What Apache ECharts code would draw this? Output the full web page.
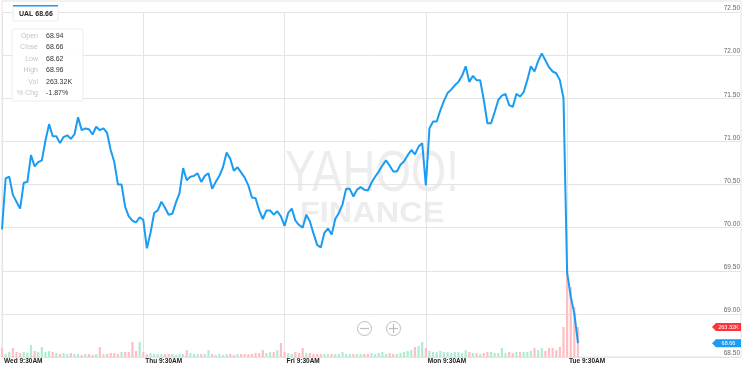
<!DOCTYPE html>
<html><head><meta charset="utf-8">
<script src="https://cdn.jsdelivr.net/npm/echarts@6/dist/echarts.min.js"></script>
<style>html,body{margin:0;padding:0;background:#fff}#c{width:744px;height:369px}</style>
</head><body><div id="c"></div><script>
// ---------- data (10-minute samples) ----------
const dayNames = ['Wed', 'Thu', 'Fri', 'Mon', 'Tue'];
const tickLabels = ['Wed 9:30AM', 'Thu 9:30AM', 'Fri 9:30AM', 'Mon 9:30AM', 'Tue 9:30AM'];
const yTickMin = 68.5, yTickMax = 72.5, yTickStep = 0.5;

const priceWed = [69.98,70.57,70.59,70.38,70.30,70.22,70.52,70.53,70.84,70.71,70.76,70.78,71.01,71.20,71.06,71.06,70.98,71.05,71.07,71.03,71.08,71.28,71.13,71.15,71.14,71.08,71.17,71.13,71.15,71.10,70.90,70.76,70.50,70.50,70.24,70.13,70.08,70.06,70.12];
const priceThu = [70.09,69.76,69.94,70.17,70.20,70.30,70.23,70.15,70.16,70.29,70.40,70.69,70.55,70.59,70.60,70.63,70.53,70.60,70.63,70.45,70.53,70.60,70.70,70.87,70.80,70.66,70.70,70.64,70.58,70.49,70.35,70.34,70.20,70.10,70.20,70.20,70.15,70.19,70.13];
const priceFri = [70.02,70.17,70.22,70.08,70.03,70.00,70.15,70.07,69.93,69.80,69.77,69.94,69.99,69.92,70.10,70.17,70.27,70.45,70.45,70.36,70.44,70.47,70.44,70.43,70.52,70.59,70.65,70.72,70.78,70.72,70.65,70.65,70.73,70.77,70.84,70.90,70.85,70.94,70.98];
const priceMon = [70.49,71.15,71.23,71.23,71.36,71.47,71.56,71.60,71.65,71.69,71.76,71.87,71.69,71.76,71.71,71.71,71.48,71.21,71.21,71.34,71.48,71.53,71.55,71.42,71.40,71.55,71.52,71.57,71.71,71.87,71.81,71.93,72.02,71.94,71.86,71.81,71.79,71.71,71.50];
const priceTue = [69.48,69.20,69.00,68.66];

// volume in thousands of shares
const volWed = [76,26,44,79,44,35,44,35,105,53,44,88,44,53,44,35,26,35,26,35,26,26,18,26,26,18,26,88,26,26,35,35,26,44,44,44,132,53,132];
const volThu = [44,26,35,26,26,26,26,26,26,18,26,26,61,35,26,26,26,26,61,26,18,26,18,26,26,18,26,26,26,26,26,35,35,61,35,44,44,61,123];
const volFri = [44,35,26,44,35,79,35,35,26,26,26,26,26,26,26,26,44,26,26,26,26,26,26,26,35,26,35,44,26,35,26,26,35,44,53,61,88,97,132];
const volMon = [79,53,44,44,53,44,44,35,44,44,35,61,44,35,35,26,35,44,44,35,35,79,35,44,35,44,44,44,44,53,79,61,79,53,79,79,61,88,263];
const volTue = [781,615,439,263.32];

const statLabels = ['Open', 'Close', 'Low', 'High', 'Vol', '% Chg'];
const statValues = ['68.94', '68.66', '68.62', '68.96', '263.32K', '-1.87%'];
const ticker = 'UAL';

// ---------- build ----------
const price = [].concat(priceWed, priceThu, priceFri, priceMon, priceTue);
const volume = [].concat(volWed, volThu, volFri, volMon, volTue);
const perDay = 39, stepMin = 10, totalSlots = 205;
const categories = [];
for (let i = 0; i < totalSlots; i++) {
  const d = Math.min(Math.floor(i / perDay), 4);
  const m = 570 + (i - d * perDay) * stepMin;
  let h = Math.floor(m / 60), mm = m % 60;
  const ap = h >= 12 ? 'PM' : 'AM';
  if (h > 12) h -= 12;
  categories.push(dayNames[d] + ' ' + h + ':' + String(mm).padStart(2, '0') + ap + (i >= perDay * 5 ? '+' + i : ''));
}
const lastPrice = price[price.length - 1];
const lastVol = volume[volume.length - 1];
const lastIdx = totalSlots - 1;

const FONT = '"Liberation Sans", Arial, sans-serif';
const BLUE = '#1a9cf3';
const GREEN = '#b2ead4';
const PINK = '#ffbfc2';
const GRID = '#e4e4e4';
const isDayStart = (i) => i % perDay === 0 && i < perDay * 5;

const chart = echarts.init(document.getElementById('c'), null, { renderer: 'canvas' });
const tagPath = 'path://M0,4 L4,0 L29,0 L29,8 L4,8 Z';

chart.setOption({
  animation: false,
  backgroundColor: '#fff',
  grid: [
    { left: 2, right: 3, top: 12, bottom: 12 },
    { left: 2, right: 3, top: 1, bottom: 12, show: true, borderColor: GRID, borderWidth: 1, backgroundColor: 'transparent', z: 0 }
  ],
  xAxis: [
    {
      type: 'category', gridIndex: 0, data: categories, boundaryGap: false,
      axisLine: { show: false }, axisTick: { show: false },
      axisLabel: {
        interval: (i) => isDayStart(i),
        formatter: (v, i) => tickLabels[Math.floor(i / perDay)],
        align: 'left', margin: 1, padding: [0, 0, 0, 2],
        fontSize: 6.5, fontWeight: 'bold', color: '#222', fontFamily: FONT
      },
      splitLine: { show: true, interval: (i) => isDayStart(i), lineStyle: { color: GRID, width: 1 } }
    },
    {
      type: 'category', gridIndex: 1, data: categories, boundaryGap: false, show: false
    }
  ],
  yAxis: [
    {
      type: 'value', gridIndex: 0, position: 'right',
      min: yTickMin, max: yTickMax, interval: yTickStep,
      axisLine: { show: false }, axisTick: { show: false },
      axisLabel: {
        inside: true, margin: 1, fontSize: 6.5, color: '#666', fontFamily: FONT,
        verticalAlign: 'bottom', formatter: (v) => v.toFixed(2)
      },
      splitLine: { lineStyle: { color: GRID, width: 1 } }
    },
    { type: 'value', gridIndex: 1, min: 0, max: 3125, show: false, splitLine: { show: false } }
  ],
  series: [
    {
      type: 'bar', xAxisIndex: 1, yAxisIndex: 1, z: 1, barWidth: 2.2,
      data: volume.map((v, i) => ({
        value: v,
        itemStyle: { color: (i > 0 && price[i] >= price[i - 1]) ? GREEN : PINK }
      })),
      markPoint: {
        silent: true, animation: false,
        symbol: tagPath, symbolSize: [29, 8], symbolOffset: [-14.5, 0], symbolKeepAspect: false,
        itemStyle: { color: '#ff333a' },
        label: { show: true, position: 'inside', offset: [2, 0], color: '#fff', fontSize: 5.5, fontFamily: FONT,
          formatter: () => lastVol.toFixed(2) + 'K' },
        data: [{ coord: [lastIdx, lastVol] }]
      }
    },
    {
      type: 'line', xAxisIndex: 0, yAxisIndex: 0, z: 3, data: price,
      showSymbol: false, symbol: 'none', smooth: false,
      lineStyle: { color: BLUE, width: 2 },
      markPoint: {
        silent: true, animation: false,
        symbol: tagPath, symbolSize: [29, 8], symbolOffset: [-14.5, 0], symbolKeepAspect: false,
        itemStyle: { color: BLUE },
        label: { show: true, position: 'inside', offset: [2, 0], color: '#fff', fontSize: 5.5, fontFamily: FONT,
          formatter: () => lastPrice.toFixed(2) },
        data: [{ coord: [lastIdx, lastPrice] }]
      }
    }
  ],
  graphic: [
    // watermark
    { type: 'text', x: 285, y: 175, scaleX: 0.8, z: 0, silent: true,
      style: { text: 'YAHOO!', font: 'normal 57px ' + FONT, fill: '#ededed', verticalAlign: 'middle', align: 'left' } },
    { type: 'text', x: 300, y: 214, scaleX: 1.12, z: 0, silent: true,
      style: { text: 'FINANCE', font: 'bold 29px ' + FONT, fill: '#ededed', verticalAlign: 'middle', align: 'left' } },
    // legend chip
    { type: 'rect', shape: { x: 13, y: 6, width: 45, height: 15, r: 1 }, z: 10,
      style: { fill: '#fff', stroke: '#ececec', lineWidth: 1 } },
    { type: 'rect', shape: { x: 13, y: 5, width: 45, height: 1.5 }, z: 11, style: { fill: BLUE } },
    { type: 'text', x: 19, y: 14, z: 11,
      style: { text: ticker + ' ' + lastPrice.toFixed(2), font: 'bold 7px ' + FONT, fill: '#222', verticalAlign: 'middle' } },
    // stats box
    { type: 'rect', shape: { x: 12, y: 29, width: 71, height: 72, r: 2 }, z: 10,
      style: { fill: 'rgba(255,255,255,0.92)', stroke: '#ececec', lineWidth: 1 } },
    ...statLabels.map((t, k) => ({ type: 'text', x: 38, y: 36 + k * 11.4, z: 11,
      style: { text: t, font: '7px ' + FONT, fill: '#c4c4c4', align: 'right', verticalAlign: 'middle' } })),
    ...statValues.map((t, k) => ({ type: 'text', x: 46, y: 36 + k * 11.4, z: 11,
      style: { text: t, font: '7px ' + FONT, fill: '#333', align: 'left', verticalAlign: 'middle' } })),
    // zoom buttons
    { type: 'circle', shape: { cx: 364.5, cy: 328.5, r: 7 }, z: 10, style: { fill: '#fff', stroke: '#bdbdbd', lineWidth: 1 } },
    { type: 'line', shape: { x1: 360, y1: 328.5, x2: 369, y2: 328.5 }, z: 11, style: { stroke: '#bdbdbd', lineWidth: 1.2 } },
    { type: 'circle', shape: { cx: 393.5, cy: 328.5, r: 7 }, z: 10, style: { fill: '#fff', stroke: '#bdbdbd', lineWidth: 1 } },
    { type: 'line', shape: { x1: 389, y1: 328.5, x2: 398, y2: 328.5 }, z: 11, style: { stroke: '#bdbdbd', lineWidth: 1.2 } },
    { type: 'line', shape: { x1: 393.5, y1: 324, x2: 393.5, y2: 333 }, z: 11, style: { stroke: '#bdbdbd', lineWidth: 1.2 } }
  ]
});
</script></body></html>
